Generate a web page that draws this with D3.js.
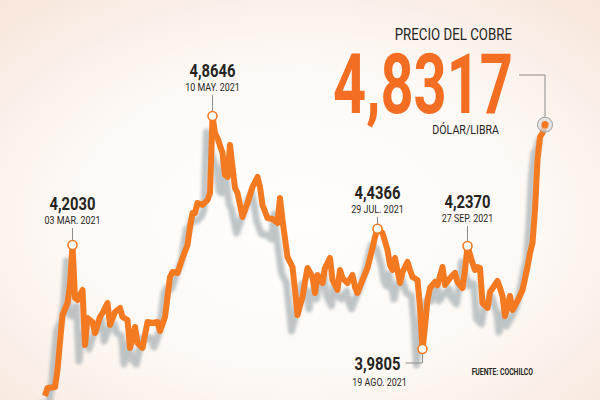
<!DOCTYPE html>
<html>
<head>
<meta charset="utf-8">
<script src="https://cdn.jsdelivr.net/npm/d3@7"></script>
<style>
  html, body { margin: 0; padding: 0; background: #fdf6f1; }
  svg { display: block; }
</style>
</head>
<body>
<svg id="chart"></svg>
<script>
const width = 600;
const height = 400;

// sesiones (dias habiles desde el inicio) y precio del cobre, US$/lb
const dia = [0, 1, 4, 5, 6, 7, 9, 10, 11, 12, 13, 15, 16, 17, 19, 20, 22, 23, 25, 26,
    28, 30, 31, 33, 34, 36, 37, 39, 41, 43, 45, 46, 48, 50, 51, 53, 55, 57, 58, 59,
    60, 61, 63, 65, 66, 67, 68, 69, 71, 72, 73, 74, 75, 76, 77, 79, 81, 83, 85, 86,
    87, 89, 91, 93, 94, 95, 97, 99, 100, 101, 103, 104, 105, 107, 108, 109, 111, 112, 114, 115,
    117, 118, 119, 121, 123, 124, 125, 127, 129, 131, 132, 133, 135, 137, 138, 139, 140, 142, 143, 145,
    146, 147, 149, 150, 151, 152, 153, 154, 156, 157, 159, 160, 162, 164, 165, 167, 168, 169, 171, 172,
    173, 174, 175, 177, 178, 181, 182, 183, 184, 186, 187, 189, 191, 193, 194, 195, 196, 197, 198, 199, 200];

const precio = [3.8022, 3.8325, 3.8363, 3.9008, 4.0071, 4.1095, 4.1550, 4.2233, 4.3751, 4.1740,
    4.1664, 4.2044, 3.9957, 4.0981, 4.0830, 4.0412, 4.1019, 4.1171, 4.1550, 4.0716,
    4.1209, 4.1361, 4.1019, 4.0905, 3.9843, 4.0640, 4.0033, 3.9843, 4.0830, 4.0790,
    4.0830, 4.0488, 4.1019, 4.2537, 4.2727, 4.2689, 4.3258, 4.3751, 4.4434, 4.4966,
    4.4966, 4.5345, 4.5269, 4.5459, 4.5724, 4.8646, 4.8001, 4.7811, 4.7242, 4.6407,
    4.6332, 4.7546, 4.6711, 4.5914, 4.5724, 4.4814, 4.5345, 4.5952, 4.6332, 4.5952,
    4.5269, 4.4776, 4.4740, 4.4586, 4.5535, 4.4700, 4.3296, 4.2916, 4.2044, 4.1095,
    4.1778, 4.2347, 4.2879, 4.2537, 4.1930, 4.2613, 4.2309, 4.2879, 4.3258, 4.2423,
    4.2044, 4.2803, 4.2499, 4.2309, 4.2613, 4.2158, 4.1930, 4.2423, 4.2879, 4.3637,
    4.4055, 4.4366, 4.4207, 4.3562, 4.2992, 4.2803, 4.3258, 4.2309, 4.2727, 4.3106,
    4.2803, 4.2537, 4.2423, 4.1399, 3.9805, 4.0640, 4.1664, 4.2120, 4.2347, 4.2233,
    4.2916, 4.2233, 4.2499, 4.2689, 4.2347, 4.2120, 4.2803, 4.3713, 4.3068, 4.2803,
    4.2916, 4.2879, 4.1550, 4.1361, 4.1968, 4.2385, 4.2120, 4.1816, 4.1057, 4.1816,
    4.1285, 4.1626, 4.2044, 4.2916, 4.3448, 4.3827, 4.5079, 4.6977, 4.7849, 4.8001, 4.8317];

// puntos destacados
const notaDia = [11, 67, 133, 151, 169];
const notaValor = ["4,2030", "4,8646", "4,4366", "3,9805", "4,2370"];
const notaFecha = ["03 MAR. 2021", "10 MAY. 2021", "29 JUL. 2021", "19 AGO. 2021", "27 SEP. 2021"];

const ultimoValor = "4,8317";

// layout of the labels (distance from point to date baseline)
const notaLado = ["arriba", "arriba", "arriba", "abajo", "arriba"];
const notaGap = [21, 25, 16, 0, 24];

const naranja = "#f47a22";
const oscuro = "#262422";

const svg = d3.select("#chart").attr("width", width).attr("height", height);

const defs = svg.append("defs");
const grad = defs.append("radialGradient")
    .attr("id", "fondo")
    .attr("cx", "50%").attr("cy", "55%").attr("r", "75%");
grad.append("stop").attr("offset", "0%").attr("stop-color", "#fffefd");
grad.append("stop").attr("offset", "55%").attr("stop-color", "#fdf8f4");
grad.append("stop").attr("offset", "100%").attr("stop-color", "#f7e5da");

defs.append("filter")
    .attr("id", "difuso")
    .attr("x", "-10%").attr("y", "-10%").attr("width", "120%").attr("height", "120%")
    .append("feGaussianBlur")
    .attr("stdDeviation", 1.8);

svg.append("rect")
    .attr("width", width)
    .attr("height", height)
    .attr("fill", "url(#fondo)");

const x = d3.scaleLinear().domain([0, 200]).range([45, 545]);
const y = d3.scaleLinear().domain([3.9805, 4.8646]).range([349, 116]);

const serie = dia.map((d, i) => ({ dia: d, precio: precio[i] }));

const linea = d3.line()
    .x(d => x(d.dia))
    .y(d => y(d.precio))
    .curve(d3.curveLinear);

// sombra
svg.append("path")
    .datum(serie)
    .attr("d", linea)
    .attr("transform", "translate(-6,16)")
    .attr("fill", "none")
    .attr("stroke", "#aab3b6")
    .attr("stroke-width", 7)
    .attr("stroke-linejoin", "round")
    .attr("stroke-linecap", "round")
    .attr("opacity", 0.75)
    .attr("filter", "url(#difuso)");

svg.append("path")
    .datum(serie)
    .attr("d", linea)
    .attr("fill", "none")
    .attr("stroke", naranja)
    .attr("stroke-width", 6)
    .attr("stroke-linejoin", "round")
    .attr("stroke-linecap", "butt");

function condensar(sel, f) {
    sel.each(function() {
        const w = this.getComputedTextLength();
        d3.select(this)
            .attr("textLength", w * f)
            .attr("lengthAdjust", "spacingAndGlyphs");
    });
}

const notas = svg.append("g").attr("class", "notas");

notaDia.forEach((d, i) => {
    const px = x(d);
    const py = y(precio[dia.indexOf(d)]);
    const g = notas.append("g");

    if (notaLado[i] === "arriba") {
        const base = py - notaGap[i];
        g.append("line")
            .attr("x1", px).attr("x2", px)
            .attr("y1", base + 4).attr("y2", py - 4.5)
            .attr("stroke", "#8c8c8c").attr("stroke-width", 1);
        g.append("text")
            .attr("x", px).attr("y", base - 14)
            .attr("text-anchor", "middle")
            .attr("font-family", "Roboto, sans-serif")
            .attr("font-weight", 700)
            .attr("font-size", 18)
            .attr("fill", oscuro)
            .text(notaValor[i])
            .call(condensar, 0.82);
        g.append("text")
            .attr("x", px).attr("y", base)
            .attr("text-anchor", "middle")
            .attr("font-family", "Roboto, sans-serif")
            .attr("font-size", 10.5)
            .attr("fill", oscuro)
            .text(notaFecha[i])
            .call(condensar, 0.85);
    } else {
        g.append("path")
            .attr("d", `M${px},${py + 4.5}V${py + 14}H${px - 17}`)
            .attr("fill", "none")
            .attr("stroke", "#8c8c8c").attr("stroke-width", 1);
        g.append("text")
            .attr("x", px - 22).attr("y", py + 21)
            .attr("text-anchor", "end")
            .attr("font-family", "Roboto, sans-serif")
            .attr("font-weight", 700)
            .attr("font-size", 18)
            .attr("fill", oscuro)
            .text(notaValor[i])
            .call(condensar, 0.82);
        g.append("text")
            .attr("x", px - 43).attr("y", py + 37)
            .attr("text-anchor", "middle")
            .attr("font-family", "Roboto, sans-serif")
            .attr("font-size", 10.5)
            .attr("fill", oscuro)
            .text(notaFecha[i])
            .call(condensar, 0.85);
    }

    g.append("circle")
        .attr("cx", px).attr("cy", py)
        .attr("r", 4.5)
        .attr("fill", "#fff")
        .attr("stroke", naranja)
        .attr("stroke-width", 1.6);
});

// ultimo valor
const ux = x(dia[dia.length - 1]);
const uy = y(precio[precio.length - 1]);

svg.append("path")
    .attr("d", `M${ux},${uy - 8}V75H519`)
    .attr("fill", "none")
    .attr("stroke", "#8c8c8c")
    .attr("stroke-width", 1);

svg.append("circle")
    .attr("cx", ux).attr("cy", uy)
    .attr("r", 7.5)
    .attr("fill", "#dcdcdc")
    .attr("fill-opacity", 0.7)
    .attr("stroke", "#9c9c9c")
    .attr("stroke-width", 1);

svg.append("circle")
    .attr("cx", ux).attr("cy", uy)
    .attr("r", 3.6)
    .attr("fill", naranja);

svg.append("text")
    .attr("x", 512).attr("y", 40)
    .attr("text-anchor", "end")
    .attr("font-family", "Roboto, sans-serif")
    .attr("font-size", 16)
    .attr("fill", oscuro)
    .text("PRECIO DEL COBRE")
    .call(condensar, 0.83);

svg.append("text")
    .attr("x", 423).attr("y", 113)
    .attr("text-anchor", "middle")
    .attr("font-family", "Roboto, sans-serif")
    .attr("font-weight", 700)
    .attr("font-size", 84)
    .attr("fill", "#f36d22")
    .text(ultimoValor)
    .attr("textLength", 180)
    .attr("lengthAdjust", "spacingAndGlyphs");

svg.append("text")
    .attr("x", 499).attr("y", 134)
    .attr("text-anchor", "end")
    .attr("font-family", "Roboto, sans-serif")
    .attr("font-size", 12.5)
    .attr("fill", oscuro)
    .text("DÓLAR/LIBRA")
    .call(condensar, 0.85);

svg.append("text")
    .attr("x", 533).attr("y", 375)
    .attr("text-anchor", "end")
    .attr("font-family", "Roboto, sans-serif")
    .attr("font-weight", 700)
    .attr("font-size", 8.5)
    .attr("fill", oscuro)
    .text("FUENTE: COCHILCO")
    .call(condensar, 0.8);
</script>
</body>
</html>
